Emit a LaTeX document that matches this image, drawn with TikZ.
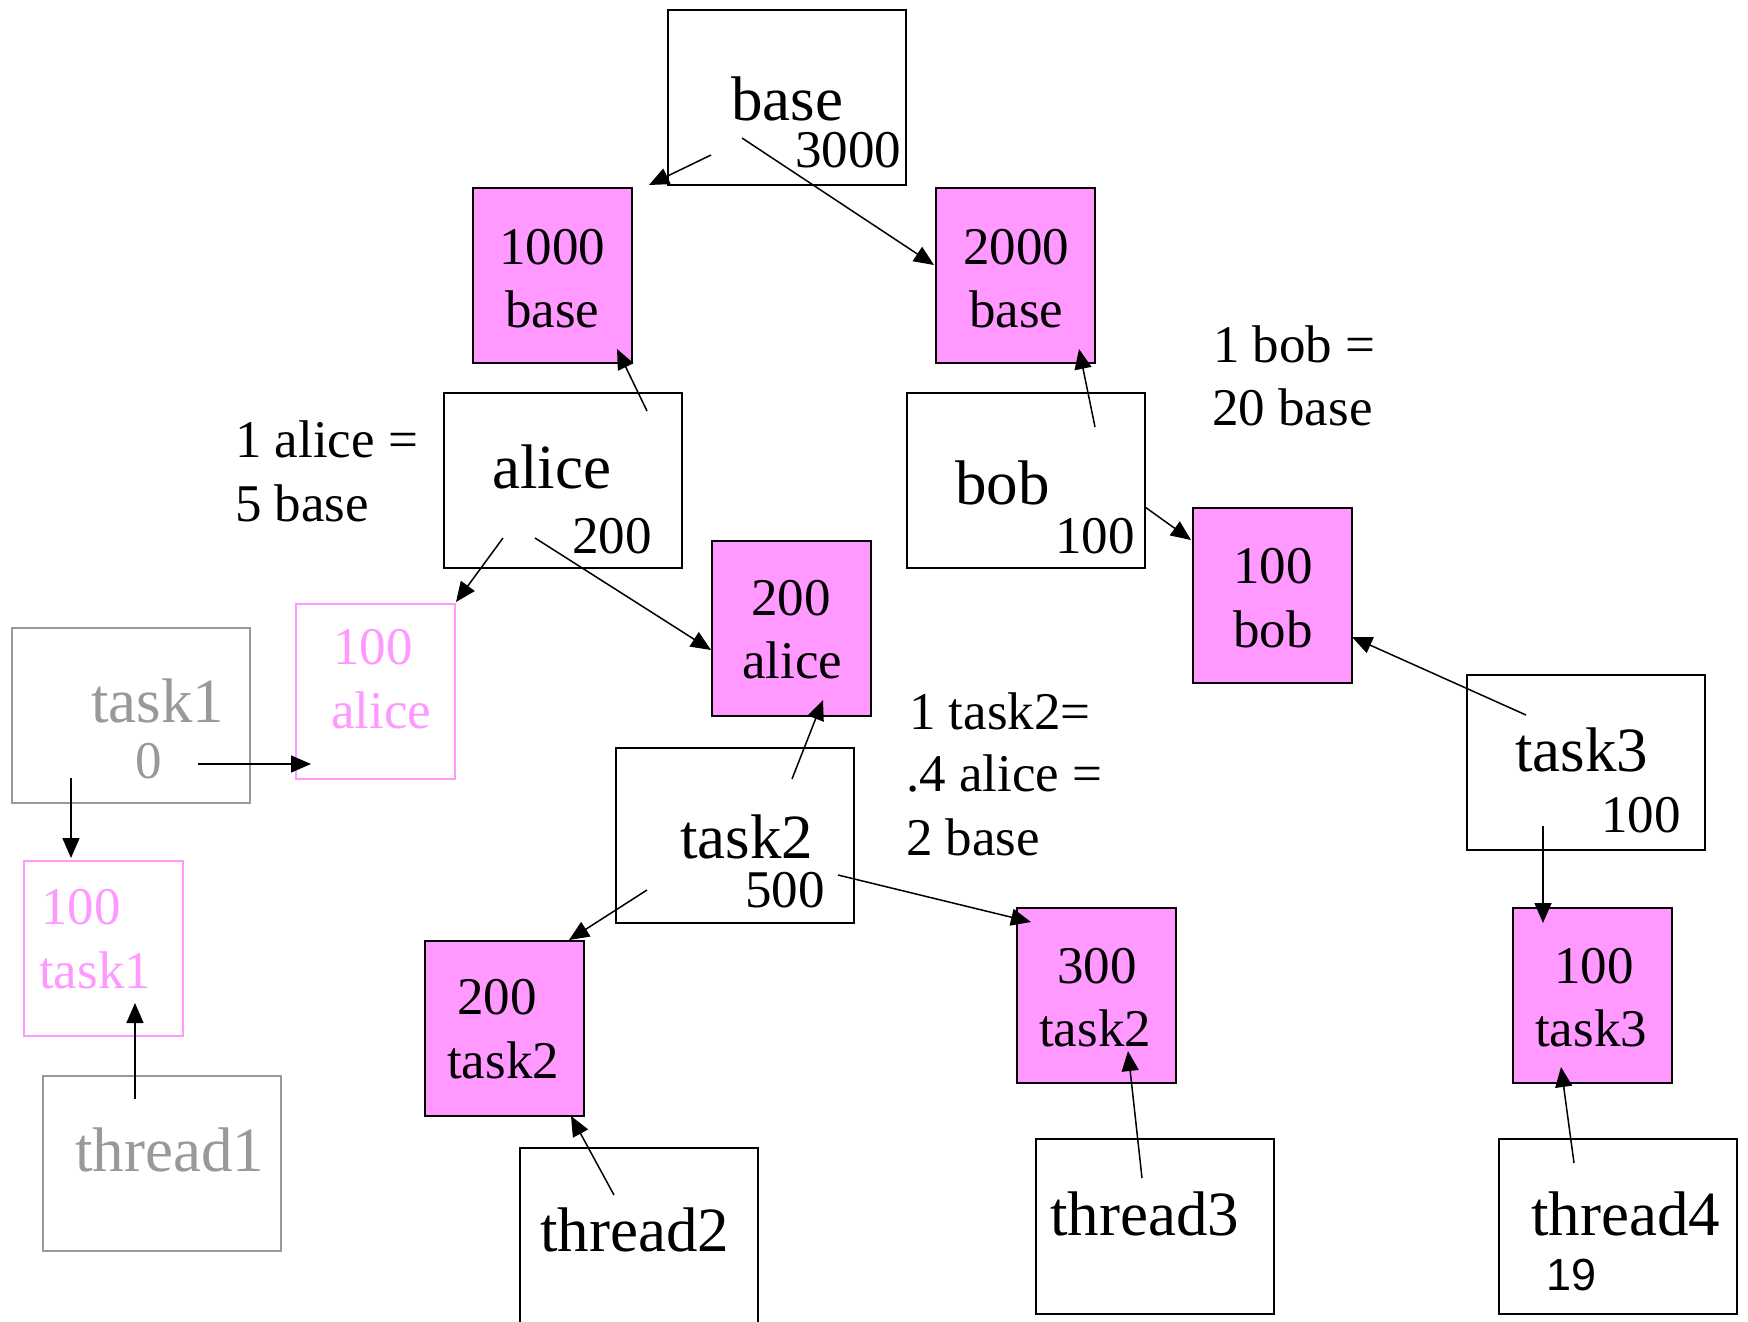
\documentclass[tikz,border=0pt]{standalone}
\usepackage{fontspec}
\setmainfont{Liberation Serif}
\newfontfamily\digitsans{Liberation Sans}
\usetikzlibrary{arrows.meta}
\definecolor{shareFill}{RGB}{255,153,255}
\definecolor{idleGray}{RGB}{153,153,153}
\tikzset{
  box/.style={draw=black, line width=2pt, anchor=north west, inner sep=0pt},
  acct/.style={box, minimum width=238pt, minimum height=175pt},
  share/.style={box, fill=shareFill, minimum width=159pt, minimum height=175pt},
  faded/.style={box, draw=idleGray, minimum width=238pt, minimum height=175pt},
  ghost/.style={box, draw=shareFill, minimum width=159pt, minimum height=175pt},
  big/.style={anchor=base west, inner sep=0pt, font=\fontsize{63}{63}\selectfont},
  small/.style={anchor=base west, inner sep=0pt, font=\fontsize{53}{53}\selectfont},
  arr/.style={line width=1.5pt, -{Triangle[length=20pt,width=17pt]}}
}
\begin{document}
\begin{tikzpicture}[x=1pt,y=-1pt]
\useasboundingbox (0,0) rectangle (1748,1322);
\clip (0,0) rectangle (1748,1322);
\fill[white] (0,0) rectangle (1748,1322);

% account and task boxes
\node[acct] (base)    at (667,9)    {};
\node[acct] (alice)   at (443,392)  {};
\node[acct] (bob)     at (906,392)  {};
\node[faded] (task1)  at (11,627)   {};
\node[acct] (task2)   at (615,747)  {};
\node[acct] (task3)   at (1466,674) {};
\node[faded] (thread1) at (42,1075) {};
\node[acct] (thread2) at (519,1147) {};
\node[acct] (thread3) at (1035,1138) {};
\node[acct] (thread4) at (1498,1138) {};

% share boxes
\node[share] (baseA)  at (472,187)  {};
\node[share] (baseB)  at (935,187)  {};
\node[share] (bobA)   at (1192,507) {};
\node[share] (aliceB) at (711,540)  {};
\node[ghost] (aliceA) at (295,603)  {};
\node[ghost] (taskA)  at (23,860)   {};
\node[share] (taskB)  at (424,940)  {};
\node[share] (taskC)  at (1016,907) {};
\node[share] (taskD)  at (1512,907) {};

% labels
\node[big]   (tBase)  at (731,120)  {base};
\node[small] (nBase)  at (795,167)  {3000};
\node[small] (tBaseA) at (499,264)  {1000};
\node[small] (uBaseA) at (505,327)  {base};
\node[small] (tBaseB) at (963,264)  {2000};
\node[small] (uBaseB) at (969,327)  {base};
\node[big]   (tAlice) at (492,488)  {alice};
\node[small] (nAlice) at (572,553)  {200};
\node[small] (rAlice1) at (235,457) {1 alice =};
\node[small] (rAlice2) at (235,521) {5 base};
\node[big]   (tBob)   at (955,504)  {bob};
\node[small] (nBob)   at (1055,553) {100};
\node[small] (rBob1)  at (1213,362) {1 bob =};
\node[small] (rBob2)  at (1212,425) {20 base};
\node[small] (tBobA)  at (1233,583) {100};
\node[small] (uBobA)  at (1233,647) {bob};
\node[small] (tAliceB) at (751,615) {200};
\node[small] (uAliceB) at (742,678) {alice};
\node[small, text=shareFill] (tAliceA) at (333,664) {100};
\node[small, text=shareFill] (uAliceA) at (331,728) {alice};
\node[big, text=idleGray] (tTask1) at (91,722) {task1};
\node[small, text=idleGray] (nTask1) at (135,778) {0};
\node[small] (rTask1) at (909,729) {1 task2=};
\node[small] (rTask2) at (906,791) {.4 alice =};
\node[small] (rTask3) at (906,855) {2 base};
\node[big]   (tTask3) at (1515,771) {task3};
\node[small] (nTask3) at (1601,832) {100};
\node[big]   (tTask2) at (680,858)  {task2};
\node[small] (nTask2) at (745,907)  {500};
\node[small, text=shareFill] (tTaskA) at (41,924) {100};
\node[small, text=shareFill] (uTaskA) at (39,988) {task1};
\node[small] (tTaskB) at (457,1014) {200};
\node[small] (uTaskB) at (447,1078) {task2};
\node[small] (tTaskC) at (1057,983) {300};
\node[small] (uTaskC) at (1039,1046) {task2};
\node[small] (tTaskD) at (1554,983) {100};
\node[small] (uTaskD) at (1535,1046) {task3};
\node[big, text=idleGray] (tThread1) at (75,1171) {thread1};
\node[big]   (tThread2) at (540,1251) {thread2};
\node[big]   (tThread3) at (1050,1235) {thread3};
\node[big]   (tThread4) at (1531,1235) {thread4};
\node[anchor=base west, inner sep=0pt, font=\digitsans\fontsize{45}{45}\selectfont] (nThread4) at (1546,1290) {19};

% connector ends
\coordinate (base-l)   at (711,155);
\coordinate (base-r)   at (742,138);
\coordinate (baseA-in) at (649,185);
\coordinate (baseB-in) at (934,265);
\coordinate (alice-u)  at (647,411);
\coordinate (baseA-lo) at (617,349);
\coordinate (alice-l)  at (503,538);
\coordinate (alice-r)  at (535,538);
\coordinate (aliceA-in) at (456,602);
\coordinate (aliceB-in) at (711,650);
\coordinate (bob-u)    at (1095,427);
\coordinate (baseB-lo) at (1079,349);
\coordinate (bob-r)    at (1145,507);
\coordinate (bobA-in)  at (1191,540);
\coordinate (task3-u)  at (1526,715);
\coordinate (bobA-lo)  at (1352,637);
\coordinate (task3-d)  at (1543,826);
\coordinate (taskD-in) at (1543,923);
\coordinate (task2-u)  at (792,779);
\coordinate (aliceB-lo) at (823,700);
\coordinate (task2-l)  at (647,890);
\coordinate (taskB-in) at (569,940);
\coordinate (task2-r)  at (838,875);
\coordinate (taskC-in) at (1031,922);
\coordinate (task1-r)  at (198,764);
\coordinate (aliceA-lo) at (311,764);
\coordinate (task1-d)  at (71,778);
\coordinate (taskA-in) at (71,858);
\coordinate (thread1-u) at (135,1099);
\coordinate (taskA-lo) at (135,1003);
\coordinate (thread2-u) at (614,1195);
\coordinate (taskB-lo) at (571,1116);
\coordinate (thread3-u) at (1142,1178);
\coordinate (taskC-lo) at (1128,1051);
\coordinate (thread4-u) at (1574,1163);
\coordinate (taskD-lo) at (1561,1067);

% connectors
\draw[arr] (base-l) -- (baseA-in);
\draw[arr] (base-r) -- (baseB-in);
\draw[arr] (alice-u) -- (baseA-lo);
\draw[arr] (alice-l) -- (aliceA-in);
\draw[arr] (alice-r) -- (aliceB-in);
\draw[arr] (bob-u) -- (baseB-lo);
\draw[arr] (bob-r) -- (bobA-in);
\draw[arr] (task3-u) -- (bobA-lo);
\draw[arr] (task3-d) -- (taskD-in);
\draw[arr] (task2-u) -- (aliceB-lo);
\draw[arr] (task2-l) -- (taskB-in);
\draw[arr] (task2-r) -- (taskC-in);
\draw[arr] (task1-r) -- (aliceA-lo);
\draw[arr] (task1-d) -- (taskA-in);
\draw[arr] (thread1-u) -- (taskA-lo);
\draw[arr] (thread2-u) -- (taskB-lo);
\draw[arr] (thread3-u) -- (taskC-lo);
\draw[arr] (thread4-u) -- (taskD-lo);
\end{tikzpicture}
\end{document}
